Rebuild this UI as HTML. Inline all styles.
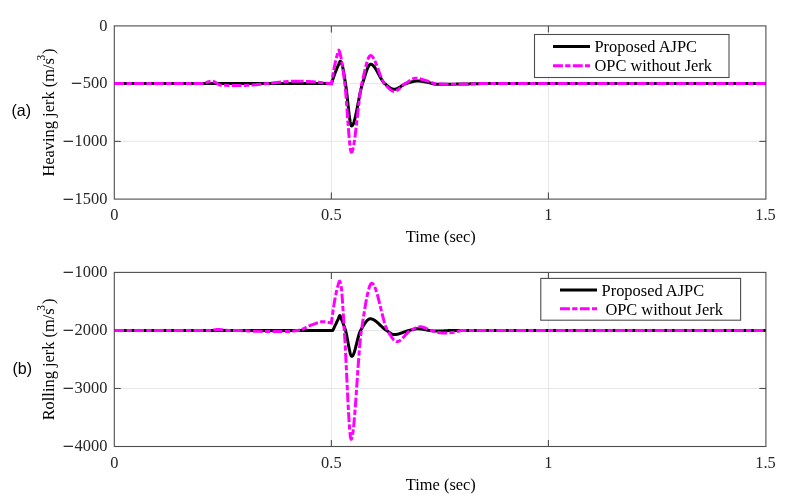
<!DOCTYPE html>
<html><head><meta charset="utf-8"><style>
html,body{margin:0;padding:0;background:#fff;}
body{width:789px;height:504px;overflow:hidden;}
svg{display:block;}
.tk{font-family:"Liberation Serif",serif;font-size:16.4px;fill:#262626;}
.m{font-family:"DejaVu Sans",sans-serif;font-size:15px;}
.lb{font-family:"Liberation Serif",serif;font-size:16.4px;fill:#000;}
.lg{font-family:"Liberation Serif",serif;font-size:16.4px;fill:#000;}
.sup{font-size:11.5px;}
.pn{font-family:"Liberation Sans",sans-serif;font-size:16px;fill:#000;}
</style></head><body>
<svg width="789" height="504" viewBox="0 0 789 504">
<rect width="789" height="504" fill="#fff"/>
<g stroke="#e6e6e6" stroke-width="1" fill="none">
<line x1="331.37" y1="25.9" x2="331.37" y2="199.1"/>
<line x1="548.43" y1="25.9" x2="548.43" y2="199.1"/>
<line x1="114.3" y1="83.63" x2="765.5" y2="83.63"/>
<line x1="114.3" y1="141.37" x2="765.5" y2="141.37"/>
</g>
<g stroke="#4d4d4d" stroke-width="1.1" fill="none">
<rect x="114.3" y="25.9" width="651.60" height="173.20"/>
<line x1="331.37" y1="199.1" x2="331.37" y2="192.6"/>
<line x1="331.37" y1="25.9" x2="331.37" y2="32.4"/>
<line x1="548.43" y1="199.1" x2="548.43" y2="192.6"/>
<line x1="548.43" y1="25.9" x2="548.43" y2="32.4"/>
<line x1="114.3" y1="83.63" x2="120.8" y2="83.63"/>
<line x1="765.9" y1="83.63" x2="759.4" y2="83.63"/>
<line x1="114.3" y1="141.37" x2="120.8" y2="141.37"/>
<line x1="765.9" y1="141.37" x2="759.4" y2="141.37"/>
</g>
<path d="M114.30,83.60 L331.50,83.60 L331.75,82.78 L332.00,81.98 L332.25,81.18 L332.50,80.40 L332.75,79.63 L333.00,78.87 L333.25,78.13 L333.50,77.39 L333.75,76.67 L334.00,75.95 L334.25,75.25 L334.50,74.55 L334.75,73.87 L335.00,73.20 L335.25,72.53 L335.50,71.88 L335.75,71.24 L336.00,70.60 L336.25,69.97 L336.50,69.36 L336.75,68.75 L337.00,68.15 L337.25,67.56 L337.50,66.97 L337.75,66.40 L338.00,65.83 L338.25,65.27 L338.50,64.72 L338.75,64.16 L339.00,63.53 L339.25,62.88 L339.50,62.27 L339.75,61.75 L340.00,61.38 L340.25,61.21 L340.50,61.27 L340.75,61.53 L341.00,61.96 L341.25,62.50 L341.50,63.14 L341.75,63.81 L342.00,64.50 L342.25,65.26 L342.50,66.18 L342.75,67.25 L343.00,68.44 L343.25,69.74 L343.50,71.13 L343.75,72.59 L344.00,74.12 L344.25,75.69 L344.50,77.28 L344.75,78.89 L345.00,80.49 L345.25,82.06 L345.50,83.60 L345.75,85.20 L346.00,86.96 L346.25,88.85 L346.50,90.87 L346.75,92.99 L347.00,95.19 L347.25,97.45 L347.50,99.75 L347.75,102.07 L348.00,104.39 L348.25,106.70 L348.50,108.96 L348.75,111.17 L349.00,113.30 L349.25,115.34 L349.50,117.25 L349.75,119.03 L350.00,120.65 L350.25,122.10 L350.50,123.34 L350.75,124.38 L351.00,125.17 L351.25,125.71 L351.50,125.98 L351.75,125.98 L352.00,125.87 L352.25,125.67 L352.50,125.38 L352.75,125.00 L353.00,124.54 L353.25,124.00 L353.50,123.39 L353.75,122.70 L354.00,121.95 L354.25,121.13 L354.50,120.25 L354.75,119.32 L355.00,118.34 L355.25,117.30 L355.50,116.23 L355.75,115.11 L356.00,113.95 L356.25,112.77 L356.50,111.55 L356.75,110.31 L357.00,109.05 L357.25,107.77 L357.50,106.47 L357.75,105.17 L358.00,103.86 L358.25,102.55 L358.50,101.24 L358.75,99.93 L359.00,98.63 L359.25,97.35 L359.50,96.09 L359.75,94.84 L360.00,93.62 L360.25,92.43 L360.50,91.27 L360.75,90.14 L361.00,89.06 L361.25,88.02 L361.50,87.02 L361.75,86.08 L362.00,85.19 L362.25,84.37 L362.50,83.60 L362.75,82.86 L363.00,82.10 L363.25,81.32 L363.50,80.53 L363.75,79.74 L364.00,78.93 L364.25,78.12 L364.50,77.31 L364.75,76.50 L365.00,75.69 L365.25,74.89 L365.50,74.10 L365.75,73.32 L366.00,72.56 L366.25,71.81 L366.50,71.08 L366.75,70.37 L367.00,69.69 L367.25,69.03 L367.50,68.40 L367.75,67.81 L368.00,67.25 L368.25,66.73 L368.50,66.25 L368.75,65.82 L369.00,65.43 L369.25,65.09 L369.50,64.80 L369.75,64.56 L370.00,64.38 L370.25,64.26 L370.50,64.21 L370.75,64.21 L371.00,64.24 L371.25,64.29 L371.50,64.38 L371.75,64.49 L372.00,64.63 L372.25,64.79 L372.50,64.97 L372.75,65.17 L373.00,65.40 L373.25,65.65 L373.50,65.91 L373.75,66.20 L374.00,66.50 L374.25,66.82 L374.50,67.15 L374.75,67.50 L375.00,67.86 L375.25,68.24 L375.50,68.63 L375.75,69.03 L376.00,69.44 L376.25,69.86 L376.50,70.29 L376.75,70.73 L377.00,71.17 L377.25,71.62 L377.50,72.08 L377.75,72.54 L378.00,73.00 L378.25,73.47 L378.50,73.94 L378.75,74.40 L379.00,74.87 L379.25,75.34 L379.50,75.81 L379.75,76.27 L380.00,76.73 L380.25,77.18 L380.50,77.63 L380.75,78.07 L381.00,78.51 L381.25,78.93 L381.50,79.35 L381.75,79.76 L382.00,80.16 L382.25,80.54 L382.50,80.92 L382.75,81.28 L383.00,81.62 L383.25,81.95 L383.50,82.26 L383.75,82.56 L384.00,82.84 L384.25,83.10 L384.50,83.34 L384.75,83.56 L385.00,83.76 L385.25,83.97 L385.50,84.18 L385.75,84.39 L386.00,84.60 L386.25,84.81 L386.50,85.03 L386.75,85.24 L387.00,85.45 L387.25,85.66 L387.50,85.86 L387.75,86.07 L388.00,86.27 L388.25,86.47 L388.50,86.67 L388.75,86.86 L389.00,87.05 L389.25,87.23 L389.50,87.41 L389.75,87.59 L390.00,87.75 L390.25,87.91 L390.50,88.07 L390.75,88.22 L391.00,88.36 L391.25,88.49 L391.50,88.61 L391.75,88.73 L392.00,88.83 L392.25,88.93 L392.50,89.01 L392.75,89.09 L393.00,89.15 L393.25,89.21 L393.50,89.25 L393.75,89.28 L394.00,89.30 L394.25,89.30 L394.50,89.29 L394.75,89.27 L395.00,89.24 L395.25,89.20 L395.50,89.15 L395.75,89.09 L396.00,89.01 L396.25,88.93 L396.50,88.85 L396.75,88.75 L397.00,88.65 L397.25,88.53 L397.50,88.42 L397.75,88.29 L398.00,88.16 L398.25,88.03 L398.50,87.89 L398.75,87.74 L399.00,87.59 L399.25,87.44 L399.50,87.29 L399.75,87.13 L400.00,86.97 L400.25,86.81 L400.50,86.64 L400.75,86.48 L401.00,86.31 L401.25,86.15 L401.50,85.98 L401.75,85.82 L402.00,85.66 L402.25,85.50 L402.50,85.34 L402.75,85.18 L403.00,85.03 L403.25,84.88 L403.50,84.74 L403.75,84.60 L404.00,84.46 L404.25,84.33 L404.50,84.20 L404.75,84.09 L405.00,83.97 L405.25,83.87 L405.50,83.77 L405.75,83.68 L406.00,83.60 L406.25,83.52 L406.50,83.44 L406.75,83.37 L407.00,83.29 L407.25,83.21 L407.50,83.13 L407.75,83.05 L408.00,82.97 L408.25,82.89 L408.50,82.81 L408.75,82.74 L409.00,82.66 L409.25,82.58 L409.50,82.50 L409.75,82.43 L410.00,82.35 L410.25,82.28 L410.50,82.20 L410.75,82.13 L411.00,82.06 L411.25,81.99 L411.50,81.92 L411.75,81.86 L412.00,81.79 L412.25,81.73 L412.50,81.67 L412.75,81.61 L413.00,81.55 L413.25,81.50 L413.50,81.45 L413.75,81.40 L414.00,81.35 L414.25,81.30 L414.50,81.26 L414.75,81.22 L415.00,81.18 L415.25,81.15 L415.50,81.12 L415.75,81.09 L416.00,81.07 L416.25,81.05 L416.50,81.03 L416.75,81.02 L417.00,81.01 L417.25,81.00 L417.50,81.00 L417.75,81.00 L418.00,81.01 L418.25,81.01 L418.50,81.02 L418.75,81.04 L419.00,81.05 L419.25,81.07 L419.50,81.09 L419.75,81.11 L420.00,81.13 L420.25,81.16 L420.50,81.19 L420.75,81.22 L421.00,81.25 L421.25,81.28 L421.50,81.32 L421.75,81.35 L422.00,81.39 L422.25,81.43 L422.50,81.47 L422.75,81.51 L423.00,81.55 L423.25,81.60 L423.50,81.64 L423.75,81.68 L424.00,81.73 L424.25,81.77 L424.50,81.82 L424.75,81.87 L425.00,81.91 L425.25,81.96 L425.50,82.01 L425.75,82.05 L426.00,82.10 L426.25,82.14 L426.50,82.19 L426.75,82.23 L427.00,82.28 L427.25,82.32 L427.50,82.37 L427.75,82.41 L428.00,82.45 L428.25,82.50 L428.50,82.55 L428.75,82.61 L429.00,82.67 L429.25,82.73 L429.50,82.79 L429.75,82.86 L430.00,82.93 L430.25,83.00 L430.50,83.07 L430.75,83.14 L431.00,83.21 L431.25,83.28 L431.50,83.35 L431.75,83.42 L432.00,83.49 L432.25,83.56 L432.50,83.63 L432.75,83.70 L433.00,83.76 L433.25,83.83 L433.50,83.89 L433.75,83.94 L434.00,84.00 L434.25,84.05 L434.50,84.10 L434.75,84.14 L435.00,84.18 L435.25,84.21 L435.50,84.24 L435.75,84.26 L436.00,84.28 L436.25,84.29 L436.50,84.30 L436.75,84.30 L437.00,84.30 L437.25,84.30 L437.50,84.30 L437.75,84.30 L438.00,84.30 L438.25,84.30 L438.50,84.30 L438.75,84.30 L439.00,84.30 L439.25,84.29 L439.50,84.29 L439.75,84.29 L440.00,84.29 L440.25,84.29 L440.50,84.29 L440.75,84.29 L441.00,84.28 L441.25,84.28 L441.50,84.28 L441.75,84.28 L442.00,84.28 L442.25,84.28 L442.50,84.27 L442.75,84.27 L443.00,84.27 L443.25,84.27 L443.50,84.27 L443.75,84.26 L444.00,84.26 L444.25,84.26 L444.50,84.26 L444.75,84.25 L445.00,84.25 L445.25,84.25 L445.50,84.25 L445.75,84.24 L446.00,84.24 L446.25,84.24 L446.50,84.24 L446.75,84.23 L447.00,84.23 L447.25,84.23 L447.50,84.23 L447.75,84.22 L448.00,84.22 L448.25,84.22 L448.50,84.22 L448.75,84.21 L449.00,84.21 L449.25,84.21 L449.50,84.21 L449.75,84.20 L450.00,84.20 L450.25,84.20 L450.50,84.19 L450.75,84.19 L451.00,84.19 L451.25,84.19 L451.50,84.18 L451.75,84.18 L452.00,84.18 L452.25,84.18 L452.50,84.17 L452.75,84.17 L453.00,84.17 L453.25,84.16 L453.50,84.16 L453.75,84.16 L454.00,84.15 L454.25,84.15 L454.50,84.15 L454.75,84.14 L455.00,84.14 L455.25,84.14 L455.50,84.13 L455.75,84.13 L456.00,84.13 L456.25,84.12 L456.50,84.12 L456.75,84.11 L457.00,84.11 L457.25,84.11 L457.50,84.10 L457.75,84.10 L458.00,84.10 L458.25,84.09 L458.50,84.09 L458.75,84.08 L459.00,84.08 L459.25,84.08 L459.50,84.07 L459.75,84.07 L460.00,84.06 L460.25,84.06 L460.50,84.05 L460.75,84.05 L461.00,84.05 L461.25,84.04 L461.50,84.04 L461.75,84.03 L462.00,84.03 L462.25,84.02 L462.50,84.02 L462.75,84.01 L463.00,84.01 L463.25,84.00 L463.50,84.00 L463.75,83.99 L464.00,83.99 L464.25,83.98 L464.50,83.98 L464.75,83.97 L465.00,83.97 L465.25,83.96 L465.50,83.96 L465.75,83.95 L466.00,83.95 L466.25,83.94 L466.50,83.94 L466.75,83.93 L467.00,83.93 L467.25,83.92 L467.50,83.92 L467.75,83.91 L468.00,83.91 L468.25,83.90 L468.50,83.89 L468.75,83.89 L469.00,83.88 L469.25,83.88 L469.50,83.87 L469.75,83.87 L470.00,83.86 L470.25,83.85 L470.50,83.85 L470.75,83.84 L471.00,83.84 L471.25,83.83 L471.50,83.82 L471.75,83.82 L472.00,83.81 L472.25,83.81 L472.50,83.80 L472.75,83.79 L473.00,83.79 L473.25,83.78 L473.50,83.78 L473.75,83.77 L474.00,83.76 L474.25,83.76 L474.50,83.75 L474.75,83.74 L475.00,83.74 L475.25,83.73 L475.50,83.72 L475.75,83.72 L476.00,83.71 L476.25,83.70 L476.50,83.70 L476.75,83.69 L477.00,83.68 L477.25,83.68 L477.50,83.67 L477.75,83.66 L478.00,83.66 L478.25,83.65 L478.50,83.64 L478.75,83.64 L479.00,83.63 L479.25,83.62 L479.50,83.61 L479.75,83.61 L480.00,83.60 L765.50,83.60" fill="none" stroke="#000" stroke-width="3" stroke-linejoin="round"/>
<path d="M114.30,83.60 L204.30,83.60 L204.55,83.44 L204.80,83.29 L205.05,83.15 L205.30,83.01 L205.55,82.88 L205.80,82.75 L206.05,82.63 L206.30,82.52 L206.55,82.41 L206.80,82.31 L207.05,82.21 L207.30,82.12 L207.56,82.04 L207.81,81.96 L208.06,81.88 L208.31,81.82 L208.56,81.75 L208.81,81.69 L209.06,81.64 L209.31,81.59 L209.56,81.54 L209.81,81.50 L210.06,81.46 L210.31,81.43 L210.56,81.40 L210.81,81.37 L211.06,81.35 L211.31,81.34 L211.56,81.32 L211.81,81.31 L212.06,81.30 L212.31,81.30 L212.56,81.30 L212.81,81.32 L213.06,81.35 L213.31,81.40 L213.56,81.46 L213.81,81.55 L214.07,81.64 L214.32,81.75 L214.57,81.87 L214.82,82.00 L215.07,82.13 L215.32,82.28 L215.57,82.43 L215.82,82.59 L216.07,82.75 L216.32,82.92 L216.57,83.09 L216.82,83.26 L217.07,83.43 L217.32,83.60 L217.57,83.77 L217.82,83.93 L218.07,84.09 L218.32,84.24 L218.57,84.38 L218.82,84.52 L219.07,84.65 L219.32,84.77 L219.57,84.87 L219.82,84.97 L220.07,85.05 L220.33,85.11 L220.58,85.16 L220.83,85.19 L221.08,85.20 L221.33,85.21 L221.58,85.22 L221.83,85.23 L222.08,85.24 L222.33,85.24 L222.58,85.25 L222.83,85.26 L223.08,85.27 L223.33,85.27 L223.58,85.28 L223.83,85.29 L224.08,85.30 L224.33,85.30 L224.58,85.31 L224.83,85.32 L225.08,85.32 L225.33,85.33 L225.58,85.34 L225.83,85.34 L226.08,85.35 L226.33,85.35 L226.59,85.36 L226.84,85.36 L227.09,85.37 L227.34,85.38 L227.59,85.38 L227.84,85.39 L228.09,85.39 L228.34,85.40 L228.59,85.40 L228.84,85.40 L229.09,85.41 L229.34,85.41 L229.59,85.42 L229.84,85.42 L230.09,85.43 L230.34,85.43 L230.59,85.43 L230.84,85.44 L231.09,85.44 L231.34,85.44 L231.59,85.45 L231.84,85.45 L232.09,85.45 L232.34,85.46 L232.59,85.46 L232.84,85.46 L233.10,85.47 L233.35,85.47 L233.60,85.47 L233.85,85.47 L234.10,85.47 L234.35,85.48 L234.60,85.48 L234.85,85.48 L235.10,85.48 L235.35,85.48 L235.60,85.49 L235.85,85.49 L236.10,85.49 L236.35,85.49 L236.60,85.49 L236.85,85.49 L237.10,85.49 L237.35,85.50 L237.60,85.50 L237.85,85.50 L238.10,85.50 L238.35,85.50 L238.60,85.50 L238.85,85.50 L239.10,85.50 L239.36,85.50 L239.61,85.50 L239.86,85.50 L240.11,85.50 L240.36,85.50 L240.61,85.50 L240.86,85.50 L241.11,85.50 L241.36,85.49 L241.61,85.49 L241.86,85.49 L242.11,85.48 L242.36,85.48 L242.61,85.47 L242.86,85.47 L243.11,85.46 L243.36,85.46 L243.61,85.45 L243.86,85.44 L244.11,85.44 L244.36,85.43 L244.61,85.42 L244.86,85.41 L245.11,85.40 L245.36,85.40 L245.61,85.39 L245.87,85.38 L246.12,85.36 L246.37,85.35 L246.62,85.34 L246.87,85.33 L247.12,85.32 L247.37,85.31 L247.62,85.29 L247.87,85.28 L248.12,85.27 L248.37,85.25 L248.62,85.24 L248.87,85.23 L249.12,85.21 L249.37,85.20 L249.62,85.18 L249.87,85.16 L250.12,85.15 L250.37,85.13 L250.62,85.12 L250.87,85.10 L251.12,85.08 L251.37,85.06 L251.62,85.05 L251.87,85.03 L252.13,85.01 L252.38,84.99 L252.63,84.97 L252.88,84.95 L253.13,84.93 L253.38,84.91 L253.63,84.89 L253.88,84.87 L254.13,84.85 L254.38,84.83 L254.63,84.81 L254.88,84.79 L255.13,84.77 L255.38,84.74 L255.63,84.72 L255.88,84.70 L256.13,84.68 L256.38,84.65 L256.63,84.63 L256.88,84.61 L257.13,84.58 L257.38,84.56 L257.63,84.54 L257.88,84.51 L258.13,84.49 L258.39,84.47 L258.64,84.44 L258.89,84.42 L259.14,84.39 L259.39,84.37 L259.64,84.34 L259.89,84.32 L260.14,84.29 L260.39,84.27 L260.64,84.24 L260.89,84.21 L261.14,84.19 L261.39,84.16 L261.64,84.14 L261.89,84.11 L262.14,84.08 L262.39,84.06 L262.64,84.03 L262.89,84.00 L263.14,83.98 L263.39,83.95 L263.64,83.92 L263.89,83.89 L264.14,83.87 L264.39,83.84 L264.64,83.81 L264.90,83.78 L265.15,83.76 L265.40,83.73 L265.65,83.70 L265.90,83.67 L266.15,83.65 L266.40,83.62 L266.65,83.59 L266.90,83.56 L267.15,83.53 L267.40,83.51 L267.65,83.48 L267.90,83.45 L268.15,83.42 L268.40,83.39 L268.65,83.37 L268.90,83.34 L269.15,83.31 L269.40,83.28 L269.65,83.25 L269.90,83.23 L270.15,83.20 L270.40,83.17 L270.65,83.14 L270.90,83.11 L271.16,83.09 L271.41,83.06 L271.66,83.03 L271.91,83.00 L272.16,82.98 L272.41,82.95 L272.66,82.92 L272.91,82.89 L273.16,82.87 L273.41,82.84 L273.66,82.81 L273.91,82.78 L274.16,82.76 L274.41,82.73 L274.66,82.70 L274.91,82.68 L275.16,82.65 L275.41,82.62 L275.66,82.60 L275.91,82.57 L276.16,82.54 L276.41,82.52 L276.66,82.49 L276.91,82.47 L277.16,82.44 L277.41,82.41 L277.67,82.39 L277.92,82.36 L278.17,82.34 L278.42,82.31 L278.67,82.29 L278.92,82.26 L279.17,82.24 L279.42,82.21 L279.67,82.19 L279.92,82.17 L280.17,82.14 L280.42,82.12 L280.67,82.10 L280.92,82.07 L281.17,82.05 L281.42,82.03 L281.67,82.00 L281.92,81.98 L282.17,81.96 L282.42,81.94 L282.67,81.92 L282.92,81.90 L283.17,81.87 L283.42,81.85 L283.67,81.83 L283.93,81.81 L284.18,81.79 L284.43,81.77 L284.68,81.75 L284.93,81.73 L285.18,81.71 L285.43,81.69 L285.68,81.68 L285.93,81.66 L286.18,81.64 L286.43,81.62 L286.68,81.61 L286.93,81.59 L287.18,81.57 L287.43,81.55 L287.68,81.54 L287.93,81.52 L288.18,81.51 L288.43,81.49 L288.68,81.48 L288.93,81.46 L289.18,81.45 L289.43,81.43 L289.68,81.42 L289.93,81.41 L290.19,81.40 L290.44,81.38 L290.69,81.37 L290.94,81.36 L291.19,81.35 L291.44,81.34 L291.69,81.33 L291.94,81.32 L292.19,81.31 L292.44,81.30 L292.69,81.29 L292.94,81.28 L293.19,81.27 L293.44,81.26 L293.69,81.26 L293.94,81.25 L294.19,81.24 L294.44,81.24 L294.69,81.23 L294.94,81.23 L295.19,81.22 L295.44,81.22 L295.69,81.21 L295.94,81.21 L296.19,81.21 L296.44,81.21 L296.70,81.20 L296.95,81.20 L297.20,81.20 L297.45,81.20 L297.70,81.20 L297.95,81.20 L298.20,81.20 L298.45,81.20 L298.70,81.20 L298.95,81.21 L299.20,81.21 L299.45,81.21 L299.70,81.21 L299.95,81.22 L300.20,81.22" fill="none" stroke="#f0f" stroke-width="3" stroke-dasharray="9.9 2.3 5.3 2.3"/>
<path d="M300.20,81.22 L300.45,81.22 L300.70,81.23 L300.95,81.23 L301.20,81.24 L301.45,81.24 L301.70,81.25 L301.95,81.25 L302.20,81.26 L302.45,81.27 L302.70,81.27 L302.96,81.28 L303.21,81.29 L303.46,81.29 L303.71,81.30 L303.96,81.31 L304.21,81.32 L304.46,81.33 L304.71,81.34 L304.96,81.35 L305.21,81.36 L305.46,81.37 L305.71,81.38 L305.96,81.39 L306.21,81.40 L306.46,81.41 L306.71,81.42 L306.96,81.44 L307.21,81.45 L307.46,81.46 L307.71,81.48 L307.96,81.49 L308.21,81.50 L308.46,81.52 L308.71,81.53 L308.96,81.54 L309.21,81.56 L309.47,81.57 L309.72,81.59 L309.97,81.61 L310.22,81.62 L310.47,81.64 L310.72,81.65 L310.97,81.67 L311.22,81.69 L311.47,81.70 L311.72,81.72 L311.97,81.74 L312.22,81.76 L312.47,81.78 L312.72,81.79 L312.97,81.81 L313.22,81.83 L313.47,81.85 L313.72,81.87 L313.97,81.89 L314.22,81.91 L314.47,81.93 L314.72,81.95 L314.97,81.97 L315.22,81.99 L315.47,82.01 L315.73,82.04 L315.98,82.06 L316.23,82.08 L316.48,82.10 L316.73,82.12 L316.98,82.15 L317.23,82.17 L317.48,82.19 L317.73,82.22 L317.98,82.24 L318.23,82.26 L318.48,82.29 L318.73,82.31 L318.98,82.34 L319.23,82.36 L319.48,82.39 L319.73,82.41 L319.98,82.44 L320.23,82.46 L320.48,82.49 L320.73,82.51 L320.98,82.54 L321.23,82.57 L321.48,82.59 L321.73,82.62 L321.99,82.65 L322.24,82.67 L322.49,82.70 L322.74,82.73 L322.99,82.76 L323.24,82.78 L323.49,82.81 L323.74,82.84 L323.99,82.87 L324.24,82.90 L324.49,82.93 L324.74,82.96 L324.99,82.98 L325.24,83.01 L325.49,83.04 L325.74,83.07 L325.99,83.10 L326.24,83.13 L326.49,83.16 L326.74,83.19 L326.99,83.22 L327.24,83.26 L327.49,83.29 L327.74,83.32 L327.99,83.35 L328.24,83.38 L328.50,83.41 L328.75,83.44 L329.00,83.47 L329.25,83.51 L329.50,83.54 L329.75,83.57 L330.00,83.60 L330.25,83.64 L330.50,83.67 L330.75,83.70 L331.00,83.73 L331.25,83.77 L331.50,83.80 L331.75,82.13 L332.00,80.50 L332.25,78.91 L332.50,77.36 L332.75,75.85 L333.00,74.38 L333.25,72.95 L333.50,71.55 L333.75,70.19 L334.00,68.86 L334.25,67.58 L334.50,66.33 L334.75,65.11 L335.00,63.93 L335.25,62.78 L335.50,61.67 L335.75,60.60 L336.00,59.55 L336.25,58.54 L336.50,57.56 L336.75,56.62 L337.00,55.71 L337.25,54.82 L337.50,53.89 L337.75,52.92 L338.00,52.00 L338.25,51.22 L338.50,50.67 L338.75,50.41 L339.00,50.52 L339.25,50.94 L339.50,51.62 L339.75,52.48 L340.00,53.44 L340.25,54.42 L340.50,55.39 L340.75,56.43 L341.00,57.58 L341.25,58.83 L341.50,60.17 L341.75,61.60 L342.00,63.12 L342.25,64.70 L342.50,66.36 L342.75,68.07 L343.00,69.84 L343.25,71.66 L343.50,73.52 L343.75,75.41 L344.00,77.34 L344.25,79.28 L344.50,81.24 L344.75,83.21 L345.00,85.27 L345.25,87.59 L345.50,90.16 L345.75,92.94 L346.00,95.91 L346.25,99.03 L346.50,102.29 L346.75,105.65 L347.00,109.09 L347.25,112.57 L347.50,116.07 L347.75,119.57 L348.00,123.03 L348.25,126.43 L348.50,129.73 L348.75,132.92 L349.00,135.96 L349.25,138.82 L349.50,141.49 L349.75,143.92 L350.00,146.09 L350.25,147.98 L350.50,149.56 L350.75,150.79 L351.00,151.65 L351.25,152.12 L351.50,152.19 L351.75,152.02 L352.00,151.68 L352.25,151.17 L352.50,150.50 L352.75,149.68 L353.00,148.71 L353.25,147.61 L353.50,146.38 L353.75,145.02 L354.00,143.55 L354.25,141.98 L354.50,140.31 L354.75,138.54 L355.00,136.70 L355.25,134.77 L355.50,132.78 L355.75,130.74 L356.00,128.63 L356.25,126.49 L356.50,124.31 L356.75,122.10 L357.00,119.87 L357.25,117.62 L357.50,115.37 L357.75,113.13 L358.00,110.89 L358.25,108.67 L358.50,106.48 L358.75,104.32 L359.00,102.20 L359.25,100.13 L359.50,98.11 L359.75,96.16 L360.00,94.29 L360.25,92.49 L360.50,90.78 L360.75,89.16 L361.00,87.65 L361.25,86.25 L361.50,84.97 L361.75,83.82 L362.00,82.75 L362.25,81.67 L362.50,80.58 L362.75,79.48 L363.00,78.37 L363.25,77.27 L363.50,76.16 L363.75,75.06 L364.00,73.96 L364.25,72.87 L364.50,71.79 L364.75,70.73 L365.00,69.68 L365.25,68.64 L365.50,67.63 L365.75,66.64 L366.00,65.67 L366.25,64.74 L366.50,63.83 L366.75,62.96 L367.00,62.12 L367.25,61.33 L367.50,60.57 L367.75,59.85 L368.00,59.19 L368.25,58.57 L368.50,58.00 L368.75,57.49 L369.00,57.03 L369.25,56.63 L369.50,56.29 L369.75,56.02 L370.00,55.81 L370.25,55.67 L370.50,55.61 L370.75,55.61 L371.00,55.66 L371.25,55.75 L371.50,55.88 L371.75,56.05 L372.00,56.25 L372.25,56.50 L372.50,56.78 L372.75,57.09 L373.00,57.44 L373.25,57.81 L373.50,58.22 L373.75,58.65 L374.00,59.11 L374.25,59.59 L374.50,60.10 L374.75,60.63 L375.00,61.18 L375.25,61.75 L375.50,62.34 L375.75,62.95 L376.00,63.57 L376.25,64.20 L376.50,64.85 L376.75,65.51 L377.00,66.18 L377.25,66.85 L377.50,67.53 L377.75,68.22 L378.00,68.91 L378.25,69.61 L378.50,70.30 L378.75,71.00 L379.00,71.69 L379.25,72.38 L379.50,73.06 L379.75,73.74 L380.00,74.41 L380.25,75.07 L380.50,75.73 L380.75,76.37 L381.00,76.99 L381.25,77.61 L381.50,78.20 L381.75,78.78 L382.00,79.34 L382.25,79.88 L382.50,80.40 L382.75,80.90 L383.00,81.37 L383.25,81.81 L383.50,82.23 L383.75,82.62 L384.00,82.98 L384.25,83.31 L384.50,83.60 L384.75,83.88 L385.00,84.16 L385.25,84.44 L385.50,84.72 L385.75,85.00 L386.00,85.29 L386.25,85.57 L386.50,85.85 L386.75,86.12 L387.00,86.40 L387.25,86.67 L387.50,86.94 L387.75,87.21 L388.00,87.47 L388.25,87.73 L388.50,87.98 L388.75,88.23 L389.00,88.47 L389.25,88.70 L389.50,88.93 L389.75,89.15 L390.00,89.36 L390.25,89.57 L390.50,89.76 L390.75,89.95 L391.00,90.12 L391.25,90.29 L391.50,90.44 L391.75,90.59 L392.00,90.72 L392.25,90.84 L392.50,90.95 L392.75,91.04 L393.00,91.12 L393.25,91.19 L393.50,91.24 L393.75,91.27 L394.00,91.29 L394.25,91.30 L394.50,91.29 L394.75,91.26 L395.00,91.22 L395.25,91.16 L395.50,91.09 L395.75,91.00 L396.00,90.90 L396.25,90.79 L396.50,90.67 L396.75,90.54 L397.00,90.39 L397.25,90.24 L397.50,90.07 L397.75,89.90 L398.00,89.72 L398.25,89.53 L398.50,89.33 L398.75,89.13 L399.00,88.92 L399.25,88.71 L399.50,88.49 L399.75,88.27 L400.00,88.05 L400.25,87.82 L400.50,87.59 L400.75,87.36 L401.00,87.13 L401.25,86.90 L401.50,86.66 L401.75,86.43 L402.00,86.20 L402.25,85.98 L402.50,85.75 L402.75,85.53 L403.00,85.31 L403.25,85.10 L403.50,84.89 L403.75,84.69 L404.00,84.49 L404.25,84.30 L404.50,84.12 L404.75,83.95 L405.00,83.78 L405.25,83.63 L405.50,83.48 L405.75,83.33 L406.00,83.17 L406.25,83.01 L406.50,82.84 L406.75,82.68 L407.00,82.51 L407.25,82.34 L407.50,82.16 L407.75,81.99 L408.00,81.82 L408.25,81.64 L408.50,81.47 L408.75,81.30 L409.00,81.12 L409.25,80.95 L409.50,80.78 L409.75,80.62 L410.00,80.45 L410.25,80.29 L410.50,80.13 L410.75,79.98 L411.00,79.83 L411.25,79.68 L411.50,79.54 L411.75,79.41 L412.00,79.28 L412.25,79.15 L412.50,79.04 L412.75,78.93 L413.00,78.82 L413.25,78.73 L413.50,78.64 L413.75,78.57 L414.00,78.50 L414.25,78.44 L414.50,78.39 L414.75,78.35 L415.00,78.32 L415.25,78.31 L415.50,78.30 L415.75,78.30 L416.00,78.31 L416.25,78.32 L416.50,78.33 L416.75,78.35 L417.00,78.37 L417.25,78.40 L417.50,78.43 L417.75,78.46 L418.00,78.50 L418.25,78.53 L418.50,78.58 L418.75,78.62 L419.00,78.67 L419.25,78.72 L419.50,78.77 L419.75,78.82 L420.00,78.88 L420.25,78.94 L420.50,79.00 L420.75,79.06 L421.00,79.13 L421.25,79.20 L421.50,79.26 L421.75,79.33 L422.00,79.40 L422.25,79.48 L422.50,79.55 L422.75,79.62 L423.00,79.70 L423.25,79.77 L423.50,79.85 L423.75,79.93 L424.00,80.00 L424.25,80.08 L424.50,80.16 L424.75,80.23 L425.00,80.31 L425.25,80.39 L425.50,80.46 L425.75,80.54 L426.00,80.62 L426.25,80.69 L426.50,80.76 L426.75,80.84 L427.00,80.91 L427.25,80.98 L427.50,81.05 L427.75,81.11 L428.00,81.18 L428.25,81.26 L428.50,81.34 L428.75,81.42 L429.00,81.51 L429.25,81.60 L429.50,81.69 L429.75,81.79 L430.00,81.88 L430.25,81.98 L430.50,82.08 L430.75,82.18 L431.00,82.28 L431.25,82.39 L431.50,82.49 L431.75,82.59 L432.00,82.69 L432.25,82.79 L432.50,82.88 L432.75,82.98 L433.00,83.07 L433.25,83.16 L433.50,83.25 L433.75,83.33 L434.00,83.41 L434.25,83.48 L434.50,83.55 L434.75,83.62 L435.00,83.68 L435.25,83.73 L435.50,83.78 L435.75,83.82 L436.00,83.85 L436.25,83.88 L436.50,83.89 L436.75,83.91 L437.00,83.92 L437.25,83.93 L437.50,83.94 L437.75,83.95 L438.00,83.96 L438.25,83.97 L438.50,83.98 L438.75,83.99 L439.00,84.00 L439.25,84.01 L439.50,84.02 L439.75,84.02 L440.00,84.03 L440.25,84.04 L440.50,84.05 L440.75,84.06 L441.00,84.06 L441.25,84.07 L441.50,84.08 L441.75,84.09 L442.00,84.09 L442.25,84.10 L442.50,84.11 L442.75,84.11 L443.00,84.12 L443.25,84.12 L443.50,84.13 L443.75,84.13 L444.00,84.14 L444.25,84.14 L444.50,84.15 L444.75,84.15 L445.00,84.16 L445.25,84.16 L445.50,84.17 L445.75,84.17 L446.00,84.17 L446.25,84.18 L446.50,84.18 L446.75,84.18 L447.00,84.18 L447.25,84.19 L447.50,84.19 L447.75,84.19 L448.00,84.19 L448.25,84.19 L448.50,84.20 L448.75,84.20 L449.00,84.20 L449.25,84.20 L449.50,84.20 L449.75,84.20 L450.00,84.20 L450.25,84.20 L450.50,84.20 L450.75,84.20 L451.00,84.20 L451.25,84.20 L451.50,84.20 L451.75,84.20 L452.00,84.20 L452.25,84.20 L452.50,84.20 L452.75,84.20 L453.00,84.20 L453.25,84.20 L453.50,84.20 L453.75,84.19 L454.00,84.19 L454.25,84.19 L454.50,84.19 L454.75,84.19 L455.00,84.19 L455.25,84.19 L455.50,84.19 L455.75,84.19 L456.00,84.18 L456.25,84.18 L456.50,84.18 L456.75,84.18 L457.00,84.18 L457.25,84.18 L457.50,84.18 L457.75,84.17 L458.00,84.17 L458.25,84.17 L458.50,84.17 L458.75,84.17 L459.00,84.16 L459.25,84.16 L459.50,84.16 L459.75,84.16 L460.00,84.15 L460.25,84.15 L460.50,84.15 L460.75,84.15 L461.00,84.14 L461.25,84.14 L461.50,84.14 L461.75,84.13 L462.00,84.13 L462.25,84.13 L462.50,84.12 L462.75,84.12 L463.00,84.12 L463.25,84.11 L463.50,84.11 L463.75,84.11 L464.00,84.10 L464.25,84.10 L464.50,84.09 L464.75,84.09 L465.00,84.08 L465.25,84.08 L465.50,84.08 L465.75,84.07 L466.00,84.07 L466.25,84.06 L466.50,84.06 L466.75,84.05 L467.00,84.05 L467.25,84.04 L467.50,84.04 L467.75,84.03 L468.00,84.02 L468.25,84.02 L468.50,84.01 L468.75,84.01 L469.00,84.00 L469.25,83.99 L469.50,83.99 L469.75,83.98 L470.00,83.97 L470.25,83.97 L470.50,83.96 L470.75,83.95 L471.00,83.95 L471.25,83.94 L471.50,83.93 L471.75,83.92 L472.00,83.92 L472.25,83.91 L472.50,83.90 L472.75,83.89 L473.00,83.89 L473.25,83.88 L473.50,83.87 L473.75,83.86 L474.00,83.85 L474.25,83.84 L474.50,83.83 L474.75,83.82 L475.00,83.82 L475.25,83.81 L475.50,83.80 L475.75,83.79 L476.00,83.78 L476.25,83.77 L476.50,83.76 L476.75,83.75 L477.00,83.74 L477.25,83.73 L477.50,83.72 L477.75,83.70 L478.00,83.69 L478.25,83.68 L478.50,83.67 L478.75,83.66 L479.00,83.65 L479.25,83.64 L479.50,83.62 L479.75,83.61 L480.00,83.60 L765.50,83.60" fill="none" stroke="#f0f" stroke-width="3" stroke-dasharray="9.9 2.3 5.3 2.3" stroke-dashoffset="14.09"/>
<rect x="534.5" y="34.5" width="194.50" height="43.00" fill="#fff" stroke="#4d4d4d" stroke-width="1.1"/>
<line x1="553" y1="46.4" x2="590" y2="46.4" stroke="#000" stroke-width="3"/>
<line x1="553" y1="65.8" x2="590" y2="65.8" stroke="#f0f" stroke-width="3" stroke-dasharray="9.9 2.3 5.3 2.3"/>
<text class="lg" x="594.5" y="51.6">Proposed AJPC</text>
<text class="lg" x="594.5" y="71.0">OPC without Jerk</text>
<text class="tk" x="107.4" y="30.50" text-anchor="end">0</text>
<text class="tk" x="107.4" y="88.23" text-anchor="end"><tspan class="m">−</tspan>500</text>
<text class="tk" x="107.4" y="145.97" text-anchor="end"><tspan class="m">−</tspan>1000</text>
<text class="tk" x="107.4" y="203.70" text-anchor="end"><tspan class="m">−</tspan>1500</text>
<text class="tk" x="114.30" y="220" text-anchor="middle">0</text>
<text class="tk" x="331.37" y="220" text-anchor="middle">0.5</text>
<text class="tk" x="548.43" y="220" text-anchor="middle">1</text>
<text class="tk" x="765.50" y="220" text-anchor="middle">1.5</text>
<text class="lb" x="440.8" y="241.8" text-anchor="middle">Time (sec)</text>
<text class="lb" transform="translate(54,112.50) rotate(-90)" text-anchor="middle">Heaving jerk (m/s<tspan class="sup" dx="-2.4" dy="-9.5">3</tspan><tspan dx="0.9" dy="9.5">)</tspan></text>
<text class="pn" transform="translate(11.5,115.8) scale(1,1.07)">(a)</text>
<g stroke="#e6e6e6" stroke-width="1" fill="none">
<line x1="331.37" y1="272.4" x2="331.37" y2="446.5"/>
<line x1="548.43" y1="272.4" x2="548.43" y2="446.5"/>
<line x1="114.3" y1="330.43" x2="765.5" y2="330.43"/>
<line x1="114.3" y1="388.47" x2="765.5" y2="388.47"/>
</g>
<g stroke="#4d4d4d" stroke-width="1.1" fill="none">
<rect x="114.3" y="272.4" width="651.60" height="174.10"/>
<line x1="331.37" y1="446.5" x2="331.37" y2="440.0"/>
<line x1="331.37" y1="272.4" x2="331.37" y2="278.9"/>
<line x1="548.43" y1="446.5" x2="548.43" y2="440.0"/>
<line x1="548.43" y1="272.4" x2="548.43" y2="278.9"/>
<line x1="114.3" y1="330.43" x2="120.8" y2="330.43"/>
<line x1="765.9" y1="330.43" x2="759.4" y2="330.43"/>
<line x1="114.3" y1="388.47" x2="120.8" y2="388.47"/>
<line x1="765.9" y1="388.47" x2="759.4" y2="388.47"/>
</g>
<path d="M114.30,330.40 L332.50,330.40 L332.80,330.40 L333.05,329.88 L333.30,329.35 L333.55,328.83 L333.80,328.30 L334.05,327.78 L334.30,327.25 L334.55,326.72 L334.80,326.20 L335.05,325.67 L335.30,325.14 L335.55,324.61 L335.81,324.08 L336.06,323.56 L336.31,323.03 L336.56,322.50 L336.81,321.97 L337.06,321.44 L337.31,320.91 L337.56,320.37 L337.81,319.84 L338.06,319.31 L338.31,318.78 L338.56,318.17 L338.81,317.47 L339.06,316.77 L339.31,316.17 L339.56,315.75 L339.81,315.60 L340.06,315.77 L340.31,316.19 L340.56,316.79 L340.81,317.48 L341.06,318.19 L341.31,318.83 L341.56,319.43 L341.82,320.04 L342.07,320.65 L342.32,321.28 L342.57,321.92 L342.82,322.57 L343.07,323.23 L343.32,323.90 L343.57,324.59 L343.82,325.29 L344.07,326.01 L344.32,326.74 L344.57,327.49 L344.82,328.25 L345.07,329.03 L345.32,329.82 L345.57,330.64 L345.82,331.54 L346.07,332.55 L346.32,333.64 L346.57,334.81 L346.82,336.04 L347.07,337.33 L347.32,338.66 L347.58,340.02 L347.83,341.40 L348.08,342.79 L348.33,344.16 L348.58,345.53 L348.83,346.86 L349.08,348.15 L349.33,349.39 L349.58,350.56 L349.83,351.66 L350.08,352.67 L350.33,353.59 L350.58,354.38 L350.83,355.06 L351.08,355.60 L351.33,356.00 L351.58,356.23 L351.83,356.30 L352.08,356.24 L352.33,356.08 L352.58,355.83 L352.83,355.49 L353.08,355.08 L353.34,354.59 L353.59,354.03 L353.84,353.40 L354.09,352.72 L354.34,351.98 L354.59,351.18 L354.84,350.35 L355.09,349.47 L355.34,348.56 L355.59,347.62 L355.84,346.66 L356.09,345.67 L356.34,344.67 L356.59,343.66 L356.84,342.65 L357.09,341.64 L357.34,340.63 L357.59,339.64 L357.84,338.66 L358.09,337.70 L358.34,336.77 L358.59,335.87 L358.84,335.01 L359.09,334.18 L359.35,333.41 L359.60,332.68 L359.85,332.02 L360.10,331.41 L360.35,330.87 L360.60,330.40 L360.85,329.97 L361.10,329.54 L361.35,329.11 L361.60,328.68 L361.85,328.25 L362.10,327.82 L362.35,327.39 L362.60,326.96 L362.85,326.54 L363.10,326.12 L363.35,325.71 L363.60,325.30 L363.85,324.90 L364.10,324.51 L364.35,324.12 L364.60,323.74 L364.85,323.37 L365.11,323.00 L365.36,322.65 L365.61,322.31 L365.86,321.98 L366.11,321.67 L366.36,321.36 L366.61,321.07 L366.86,320.80 L367.11,320.53 L367.36,320.29 L367.61,320.06 L367.86,319.85 L368.11,319.65 L368.36,319.47 L368.61,319.32 L368.86,319.18 L369.11,319.06 L369.36,318.96 L369.61,318.89 L369.86,318.84 L370.11,318.81 L370.36,318.80 L370.61,318.81 L370.86,318.83 L371.12,318.86 L371.37,318.91 L371.62,318.96 L371.87,319.02 L372.12,319.10 L372.37,319.18 L372.62,319.28 L372.87,319.38 L373.12,319.50 L373.37,319.62 L373.62,319.75 L373.87,319.88 L374.12,320.03 L374.37,320.18 L374.62,320.34 L374.87,320.51 L375.12,320.69 L375.37,320.87 L375.62,321.05 L375.87,321.24 L376.12,321.44 L376.37,321.64 L376.62,321.85 L376.88,322.06 L377.13,322.28 L377.38,322.50 L377.63,322.72 L377.88,322.95 L378.13,323.17 L378.38,323.41 L378.63,323.64 L378.88,323.88 L379.13,324.11 L379.38,324.35 L379.63,324.59 L379.88,324.83 L380.13,325.08 L380.38,325.32 L380.63,325.56 L380.88,325.80 L381.13,326.04 L381.38,326.28 L381.63,326.52 L381.88,326.76 L382.13,326.99 L382.38,327.22 L382.64,327.45 L382.89,327.68 L383.14,327.91 L383.39,328.13 L383.64,328.34 L383.89,328.56 L384.14,328.76 L384.39,328.97 L384.64,329.17 L384.89,329.36 L385.14,329.55 L385.39,329.73 L385.64,329.91 L385.89,330.08 L386.14,330.24 L386.39,330.39 L386.64,330.55 L386.89,330.71 L387.14,330.88 L387.39,331.05 L387.64,331.22 L387.89,331.40 L388.14,331.57 L388.39,331.75 L388.65,331.93 L388.90,332.11 L389.15,332.29 L389.40,332.47 L389.65,332.65 L389.90,332.82 L390.15,332.99 L390.40,333.16 L390.65,333.31 L390.90,333.47 L391.15,333.62 L391.40,333.76 L391.65,333.89 L391.90,334.01 L392.15,334.12 L392.40,334.23 L392.65,334.32 L392.90,334.40 L393.15,334.47 L393.40,334.52 L393.65,334.56 L393.90,334.59 L394.15,334.60 L394.41,334.60 L394.66,334.59 L394.91,334.58 L395.16,334.56 L395.41,334.54 L395.66,334.52 L395.91,334.49 L396.16,334.45 L396.41,334.42 L396.66,334.37 L396.91,334.33 L397.16,334.28 L397.41,334.23 L397.66,334.17 L397.91,334.11 L398.16,334.05 L398.41,333.98 L398.66,333.91 L398.91,333.84 L399.16,333.77 L399.41,333.69 L399.66,333.62 L399.91,333.54 L400.16,333.45 L400.42,333.37 L400.67,333.28 L400.92,333.20 L401.17,333.11 L401.42,333.02 L401.67,332.93 L401.92,332.84 L402.17,332.75 L402.42,332.65 L402.67,332.56 L402.92,332.46 L403.17,332.37 L403.42,332.28 L403.67,332.18 L403.92,332.09 L404.17,331.99 L404.42,331.90 L404.67,331.81 L404.92,331.72 L405.17,331.63 L405.42,331.54 L405.67,331.45 L405.92,331.36 L406.18,331.27 L406.43,331.19 L406.68,331.11 L406.93,331.02 L407.18,330.95 L407.43,330.87 L407.68,330.79 L407.93,330.72 L408.18,330.65 L408.43,330.59 L408.68,330.52 L408.93,330.46 L409.18,330.40 L409.43,330.35 L409.68,330.29 L409.93,330.23 L410.18,330.17 L410.43,330.11 L410.68,330.04 L410.93,329.98 L411.18,329.92 L411.43,329.85 L411.68,329.79 L411.94,329.72 L412.19,329.66 L412.44,329.60 L412.69,329.54 L412.94,329.48 L413.19,329.42 L413.44,329.36 L413.69,329.30 L413.94,329.25 L414.19,329.19 L414.44,329.14 L414.69,329.10 L414.94,329.05 L415.19,329.01 L415.44,328.97 L415.69,328.94 L415.94,328.90 L416.19,328.88 L416.44,328.85 L416.69,328.83 L416.94,328.82 L417.19,328.81 L417.44,328.80 L417.69,328.80 L417.95,328.80 L418.20,328.81 L418.45,328.82 L418.70,328.83 L418.95,328.84 L419.20,328.85 L419.45,328.87 L419.70,328.89 L419.95,328.91 L420.20,328.93 L420.45,328.96 L420.70,328.98 L420.95,329.01 L421.20,329.04 L421.45,329.08 L421.70,329.11 L421.95,329.14 L422.20,329.18 L422.45,329.22 L422.70,329.26 L422.95,329.30 L423.20,329.34 L423.45,329.38 L423.71,329.42 L423.96,329.47 L424.21,329.51 L424.46,329.56 L424.71,329.60 L424.96,329.65 L425.21,329.69 L425.46,329.74 L425.71,329.79 L425.96,329.84 L426.21,329.88 L426.46,329.93 L426.71,329.98 L426.96,330.03 L427.21,330.07 L427.46,330.12 L427.71,330.17 L427.96,330.21 L428.21,330.26 L428.46,330.30 L428.71,330.35 L428.96,330.39 L429.21,330.43 L429.46,330.47 L429.72,330.51 L429.97,330.55 L430.22,330.59 L430.47,330.63 L430.72,330.67 L430.97,330.70 L431.22,330.73 L431.47,330.76 L431.72,330.79 L431.97,330.82 L432.22,330.85 L432.47,330.87 L432.72,330.90 L432.97,330.92 L433.22,330.94 L433.47,330.95 L433.72,330.97 L433.97,330.98 L434.22,330.99 L434.47,330.99 L434.72,331.00 L434.97,331.00 L435.22,331.00 L435.48,331.00 L435.73,331.00 L435.98,331.00 L436.23,331.00 L436.48,331.00 L436.73,331.00 L436.98,331.00 L437.23,331.00 L437.48,331.00 L437.73,331.00 L437.98,330.99 L438.23,330.99 L438.48,330.99 L438.73,330.99 L438.98,330.99 L439.23,330.98 L439.48,330.98 L439.73,330.98 L439.98,330.97 L440.23,330.97 L440.48,330.97 L440.73,330.96 L440.98,330.96 L441.24,330.95 L441.49,330.95 L441.74,330.94 L441.99,330.93 L442.24,330.93 L442.49,330.92 L442.74,330.91 L442.99,330.90 L443.24,330.89 L443.49,330.89 L443.74,330.88 L443.99,330.86 L444.24,330.85 L444.49,330.84 L444.74,330.83 L444.99,330.82 L445.24,330.80 L445.49,330.79 L445.74,330.77 L445.99,330.76 L446.24,330.74 L446.49,330.72 L446.74,330.71 L446.99,330.69 L447.25,330.67 L447.50,330.65 L447.75,330.63 L448.00,330.61 L448.25,330.58 L448.50,330.56 L448.75,330.53 L449.00,330.51 L449.25,330.48 L449.50,330.46 L449.75,330.43 L450.00,330.40 L765.50,330.40" fill="none" stroke="#000" stroke-width="3" stroke-linejoin="round"/>
<path d="M114.30,330.40 L212.00,330.40 L212.25,330.34 L212.50,330.28 L212.75,330.22 L213.00,330.17 L213.25,330.11 L213.50,330.06 L213.75,330.00 L214.00,329.95 L214.25,329.90 L214.50,329.86 L214.75,329.81 L215.00,329.77 L215.25,329.73 L215.50,329.69 L215.75,329.66 L216.01,329.63 L216.26,329.60 L216.51,329.57 L216.76,329.55 L217.01,329.53 L217.26,329.52 L217.51,329.51 L217.76,329.50 L218.01,329.50 L218.26,329.50 L218.51,329.51 L218.76,329.51 L219.01,329.52 L219.26,329.54 L219.51,329.55 L219.76,329.57 L220.01,329.59 L220.26,329.61 L220.51,329.63 L220.76,329.65 L221.01,329.68 L221.26,329.70 L221.51,329.73 L221.76,329.76 L222.01,329.79 L222.26,329.82 L222.51,329.85 L222.76,329.88 L223.01,329.92 L223.26,329.95 L223.51,329.98 L223.76,330.01 L224.02,330.04 L224.27,330.08 L224.52,330.11 L224.77,330.14 L225.02,330.17 L225.27,330.19 L225.52,330.22 L225.77,330.25 L226.02,330.27 L226.27,330.29 L226.52,330.32 L226.77,330.34 L227.02,330.35 L227.27,330.37 L227.52,330.38 L227.77,330.39 L228.02,330.40 L228.27,330.41 L228.52,330.41 L228.77,330.42 L229.02,330.43 L229.27,330.43 L229.52,330.44 L229.77,330.44 L230.02,330.45 L230.27,330.45 L230.52,330.46 L230.77,330.46 L231.02,330.47 L231.27,330.47 L231.52,330.48 L231.77,330.48 L232.03,330.48 L232.28,330.49 L232.53,330.49 L232.78,330.49 L233.03,330.50 L233.28,330.50 L233.53,330.50 L233.78,330.51 L234.03,330.51 L234.28,330.51 L234.53,330.52 L234.78,330.52 L235.03,330.52 L235.28,330.52 L235.53,330.53 L235.78,330.53 L236.03,330.53 L236.28,330.54 L236.53,330.54 L236.78,330.54 L237.03,330.55 L237.28,330.55 L237.53,330.55 L237.78,330.56 L238.03,330.56 L238.28,330.57 L238.53,330.57 L238.78,330.58 L239.03,330.58 L239.28,330.58 L239.53,330.59 L239.78,330.60 L240.04,330.60 L240.29,330.61 L240.54,330.61 L240.79,330.62 L241.04,330.63 L241.29,330.63 L241.54,330.64 L241.79,330.65 L242.04,330.66 L242.29,330.66 L242.54,330.67 L242.79,330.68 L243.04,330.69 L243.29,330.70 L243.54,330.71 L243.79,330.72 L244.04,330.73 L244.29,330.74 L244.54,330.75 L244.79,330.76 L245.04,330.77 L245.29,330.78 L245.54,330.79 L245.79,330.80 L246.04,330.81 L246.29,330.82 L246.54,330.83 L246.79,330.85 L247.04,330.86 L247.29,330.87 L247.54,330.88 L247.79,330.89 L248.05,330.90 L248.30,330.91 L248.55,330.93 L248.80,330.94 L249.05,330.95 L249.30,330.96 L249.55,330.97 L249.80,330.98 L250.05,331.00 L250.30,331.01 L250.55,331.02 L250.80,331.03 L251.05,331.04 L251.30,331.05 L251.55,331.06 L251.80,331.08 L252.05,331.09 L252.30,331.10 L252.55,331.11 L252.80,331.12 L253.05,331.13 L253.30,331.14 L253.55,331.15 L253.80,331.16 L254.05,331.17 L254.30,331.18 L254.55,331.19 L254.80,331.20 L255.05,331.21 L255.30,331.22 L255.55,331.23 L255.81,331.24 L256.06,331.24 L256.31,331.25 L256.56,331.26 L256.81,331.27 L257.06,331.28 L257.31,331.28 L257.56,331.29 L257.81,331.30 L258.06,331.30 L258.31,331.31 L258.56,331.31 L258.81,331.32 L259.06,331.33 L259.31,331.33 L259.56,331.34 L259.81,331.34 L260.06,331.35 L260.31,331.36 L260.56,331.36 L260.81,331.37 L261.06,331.38 L261.31,331.38 L261.56,331.39 L261.81,331.39 L262.06,331.40 L262.31,331.41 L262.56,331.41 L262.81,331.42 L263.06,331.42 L263.31,331.43 L263.56,331.44 L263.82,331.44 L264.07,331.45 L264.32,331.45 L264.57,331.46 L264.82,331.47 L265.07,331.47 L265.32,331.48 L265.57,331.48 L265.82,331.49 L266.07,331.49 L266.32,331.50 L266.57,331.50 L266.82,331.51 L267.07,331.51 L267.32,331.52 L267.57,331.52 L267.82,331.53 L268.07,331.53 L268.32,331.54 L268.57,331.54 L268.82,331.54 L269.07,331.55 L269.32,331.55 L269.57,331.56 L269.82,331.56 L270.07,331.56 L270.32,331.57 L270.57,331.57 L270.82,331.57 L271.07,331.58 L271.32,331.58 L271.57,331.58 L271.83,331.58 L272.08,331.59 L272.33,331.59 L272.58,331.59 L272.83,331.59 L273.08,331.59 L273.33,331.60 L273.58,331.60 L273.83,331.60 L274.08,331.60 L274.33,331.60 L274.58,331.60 L274.83,331.60 L275.08,331.60 L275.33,331.60 L275.58,331.60 L275.83,331.60 L276.08,331.60 L276.33,331.60 L276.58,331.60 L276.83,331.60 L277.08,331.60 L277.33,331.59 L277.58,331.59 L277.83,331.59 L278.08,331.59 L278.33,331.59 L278.58,331.59 L278.83,331.58 L279.08,331.58 L279.33,331.58 L279.58,331.58 L279.84,331.57 L280.09,331.57 L280.34,331.57 L280.59,331.57 L280.84,331.56 L281.09,331.56 L281.34,331.56 L281.59,331.55 L281.84,331.55 L282.09,331.55 L282.34,331.54 L282.59,331.54 L282.84,331.53 L283.09,331.53 L283.34,331.53 L283.59,331.52 L283.84,331.52 L284.09,331.51 L284.34,331.51 L284.59,331.50 L284.84,331.50 L285.09,331.49 L285.34,331.49 L285.59,331.48 L285.84,331.48 L286.09,331.47 L286.34,331.47 L286.59,331.46 L286.84,331.45 L287.09,331.45 L287.34,331.44 L287.59,331.44 L287.85,331.43 L288.10,331.42 L288.35,331.42 L288.60,331.41 L288.85,331.40 L289.10,331.40 L289.35,331.39 L289.60,331.38 L289.85,331.37 L290.10,331.36 L290.35,331.34 L290.60,331.33 L290.85,331.31 L291.10,331.29 L291.35,331.27 L291.60,331.25 L291.85,331.23 L292.10,331.21 L292.35,331.18 L292.60,331.16 L292.85,331.13 L293.10,331.10 L293.35,331.07 L293.60,331.04 L293.85,331.01 L294.10,330.98 L294.35,330.95 L294.60,330.91 L294.85,330.88 L295.10,330.84 L295.35,330.81 L295.61,330.77 L295.86,330.73 L296.11,330.69 L296.36,330.65 L296.61,330.61 L296.86,330.57 L297.11,330.53 L297.36,330.49 L297.61,330.45 L297.86,330.40 L298.11,330.36 L298.36,330.32 L298.61,330.27 L298.86,330.23 L299.11,330.18 L299.36,330.13 L299.61,330.07 L299.86,330.01 L300.11,329.95" fill="none" stroke="#f0f" stroke-width="3" stroke-dasharray="9.9 2.3 5.3 2.3"/>
<path d="M300.11,329.95 L300.36,329.88 L300.61,329.81 L300.86,329.73 L301.11,329.65 L301.36,329.56 L301.61,329.47 L301.86,329.38 L302.11,329.28 L302.36,329.18 L302.61,329.08 L302.86,328.97 L303.11,328.87 L303.36,328.76 L303.62,328.65 L303.87,328.53 L304.12,328.42 L304.37,328.30 L304.62,328.18 L304.87,328.06 L305.12,327.94 L305.37,327.81 L305.62,327.69 L305.87,327.56 L306.12,327.44 L306.37,327.31 L306.62,327.19 L306.87,327.06 L307.12,326.94 L307.37,326.82 L307.62,326.69 L307.87,326.57 L308.12,326.45 L308.37,326.32 L308.62,326.20 L308.87,326.09 L309.12,325.97 L309.37,325.85 L309.62,325.74 L309.87,325.63 L310.12,325.52 L310.37,325.42 L310.62,325.31 L310.87,325.21 L311.12,325.11 L311.37,325.02 L311.63,324.93 L311.88,324.84 L312.13,324.76 L312.38,324.67 L312.63,324.58 L312.88,324.50 L313.13,324.41 L313.38,324.31 L313.63,324.22 L313.88,324.13 L314.13,324.03 L314.38,323.94 L314.63,323.84 L314.88,323.75 L315.13,323.65 L315.38,323.56 L315.63,323.47 L315.88,323.37 L316.13,323.28 L316.38,323.19 L316.63,323.10 L316.88,323.01 L317.13,322.92 L317.38,322.83 L317.63,322.75 L317.88,322.66 L318.13,322.58 L318.38,322.50 L318.63,322.43 L318.88,322.36 L319.13,322.29 L319.38,322.22 L319.64,322.15 L319.89,322.09 L320.14,322.04 L320.39,321.98 L320.64,321.93 L320.89,321.89 L321.14,321.85 L321.39,321.81 L321.64,321.78 L321.89,321.75 L322.14,321.73 L322.39,321.72 L322.64,321.71 L322.89,321.70 L323.14,321.70 L323.39,321.71 L323.64,321.71 L323.89,321.73 L324.14,321.74 L324.39,321.77 L324.64,321.79 L324.89,321.82 L325.14,321.85 L325.39,321.88 L325.64,321.91 L325.89,321.95 L326.14,321.99 L326.39,322.03 L326.64,322.08 L326.89,322.12 L327.14,322.16 L327.39,322.21 L327.65,322.26 L327.90,322.30 L328.15,322.35 L328.40,322.40 L328.65,322.45 L328.90,322.49 L329.15,322.54 L329.40,322.58 L329.65,322.63 L329.90,322.67 L330.15,322.72 L330.40,322.78 L330.65,322.83 L330.90,322.89 L331.15,322.94 L331.40,323.00 L331.65,321.00 L331.90,319.05 L332.15,317.14 L332.40,315.28 L332.65,313.47 L332.90,311.71 L333.15,309.99 L333.40,308.32 L333.65,306.70 L333.90,305.12 L334.15,303.58 L334.40,302.09 L334.65,300.65 L334.90,299.25 L335.15,297.89 L335.40,296.58 L335.65,295.32 L335.90,294.09 L336.15,292.91 L336.40,291.77 L336.65,290.68 L336.90,289.62 L337.15,288.61 L337.40,287.64 L337.65,286.71 L337.91,285.83 L338.16,284.96 L338.41,284.04 L338.66,283.15 L338.91,282.35 L339.16,281.71 L339.41,281.30 L339.66,281.21 L339.91,281.49 L340.16,282.08 L340.41,282.93 L340.66,283.95 L340.91,285.07 L341.16,286.35 L341.41,288.19 L341.66,290.57 L341.91,293.41 L342.16,296.64 L342.41,300.20 L342.66,304.02 L342.91,308.02 L343.16,312.13 L343.41,316.29 L343.66,320.42 L343.91,324.46 L344.16,328.33 L344.41,332.03 L344.66,335.95 L344.91,340.15 L345.16,344.60 L345.41,349.28 L345.66,354.13 L345.91,359.14 L346.16,364.26 L346.41,369.46 L346.66,374.71 L346.91,379.98 L347.16,385.23 L347.41,390.42 L347.66,395.53 L347.91,400.52 L348.16,405.36 L348.41,410.01 L348.66,414.44 L348.91,418.61 L349.16,422.50 L349.41,426.07 L349.66,429.28 L349.91,432.10 L350.16,434.50 L350.41,436.44 L350.66,437.89 L350.92,438.82 L351.17,439.19 L351.42,439.08 L351.67,438.67 L351.92,437.97 L352.17,436.98 L352.42,435.74 L352.67,434.25 L352.92,432.52 L353.17,430.57 L353.42,428.42 L353.67,426.06 L353.92,423.53 L354.17,420.83 L354.42,417.97 L354.67,414.98 L354.92,411.85 L355.17,408.61 L355.42,405.28 L355.67,401.85 L355.92,398.35 L356.17,394.80 L356.42,391.19 L356.67,387.56 L356.92,383.90 L357.17,380.24 L357.42,376.59 L357.67,372.96 L357.92,369.36 L358.17,365.81 L358.42,362.33 L358.67,358.92 L358.92,355.60 L359.17,352.38 L359.42,349.27 L359.67,346.30 L359.92,343.47 L360.17,340.80 L360.42,338.29 L360.67,335.98 L360.92,333.85 L361.17,331.94 L361.42,330.25 L361.67,328.65 L361.92,327.05 L362.17,325.44 L362.42,323.82 L362.67,322.21 L362.92,320.59 L363.17,318.98 L363.42,317.38 L363.67,315.79 L363.93,314.20 L364.18,312.63 L364.43,311.08 L364.68,309.54 L364.93,308.02 L365.18,306.53 L365.43,305.06 L365.68,303.62 L365.93,302.21 L366.18,300.83 L366.43,299.48 L366.68,298.17 L366.93,296.90 L367.18,295.68 L367.43,294.49 L367.68,293.35 L367.93,292.26 L368.18,291.22 L368.43,290.24 L368.68,289.31 L368.93,288.43 L369.18,287.62 L369.43,286.87 L369.68,286.18 L369.93,285.57 L370.18,285.02 L370.43,284.54 L370.68,284.14 L370.93,283.81 L371.18,283.56 L371.43,283.39 L371.68,283.31 L371.93,283.31 L372.18,283.37 L372.43,283.48 L372.68,283.65 L372.93,283.88 L373.18,284.15 L373.43,284.47 L373.68,284.84 L373.93,285.26 L374.18,285.72 L374.43,286.23 L374.68,286.78 L374.93,287.36 L375.18,287.99 L375.43,288.65 L375.68,289.34 L375.93,290.07 L376.18,290.83 L376.43,291.61 L376.68,292.43 L376.94,293.27 L377.19,294.14 L377.44,295.03 L377.69,295.94 L377.94,296.87 L378.19,297.82 L378.44,298.79 L378.69,299.76 L378.94,300.76 L379.19,301.76 L379.44,302.77 L379.69,303.80 L379.94,304.82 L380.19,305.85 L380.44,306.89 L380.69,307.93 L380.94,308.96 L381.19,310.00 L381.44,311.03 L381.69,312.05 L381.94,313.07 L382.19,314.08 L382.44,315.08 L382.69,316.06 L382.94,317.04 L383.19,317.99 L383.44,318.93 L383.69,319.85 L383.94,320.76 L384.19,321.64 L384.44,322.49 L384.69,323.32 L384.94,324.13 L385.19,324.90 L385.44,325.64 L385.69,326.36 L385.94,327.03 L386.19,327.68 L386.44,328.28 L386.69,328.85 L386.94,329.38 L387.19,329.86 L387.44,330.31 L387.69,330.72 L387.94,331.13 L388.19,331.54 L388.44,331.96 L388.69,332.38 L388.94,332.80 L389.19,333.21 L389.44,333.63 L389.69,334.04 L389.95,334.45 L390.20,334.85 L390.45,335.25 L390.70,335.65 L390.95,336.04 L391.20,336.42 L391.45,336.80 L391.70,337.16 L391.95,337.52 L392.20,337.87 L392.45,338.21 L392.70,338.53 L392.95,338.84 L393.20,339.15 L393.45,339.43 L393.70,339.71 L393.95,339.96 L394.20,340.20 L394.45,340.43 L394.70,340.64 L394.95,340.83 L395.20,341.00 L395.45,341.15 L395.70,341.28 L395.95,341.39 L396.20,341.48 L396.45,341.54 L396.70,341.58 L396.95,341.60 L397.20,341.59 L397.45,341.57 L397.70,341.53 L397.95,341.48 L398.20,341.40 L398.45,341.32 L398.70,341.22 L398.95,341.10 L399.20,340.97 L399.45,340.83 L399.70,340.68 L399.95,340.51 L400.20,340.33 L400.45,340.15 L400.70,339.95 L400.95,339.74 L401.20,339.52 L401.45,339.30 L401.70,339.07 L401.95,338.83 L402.20,338.58 L402.45,338.33 L402.71,338.07 L402.96,337.81 L403.21,337.55 L403.46,337.28 L403.71,337.00 L403.96,336.73 L404.21,336.45 L404.46,336.17 L404.71,335.89 L404.96,335.61 L405.21,335.33 L405.46,335.05 L405.71,334.77 L405.96,334.50 L406.21,334.22 L406.46,333.95 L406.71,333.69 L406.96,333.43 L407.21,333.17 L407.46,332.92 L407.71,332.67 L407.96,332.43 L408.21,332.20 L408.46,331.97 L408.71,331.76 L408.96,331.55 L409.21,331.35 L409.46,331.16 L409.71,330.99 L409.96,330.82 L410.21,330.67 L410.46,330.52 L410.71,330.39 L410.96,330.27 L411.21,330.15 L411.46,330.02 L411.71,329.89 L411.96,329.77 L412.21,329.64 L412.46,329.51 L412.71,329.38 L412.96,329.26 L413.21,329.13 L413.46,329.01 L413.71,328.88 L413.96,328.76 L414.21,328.64 L414.46,328.52 L414.71,328.40 L414.96,328.29 L415.21,328.18 L415.46,328.07 L415.72,327.96 L415.97,327.86 L416.22,327.76 L416.47,327.66 L416.72,327.57 L416.97,327.48 L417.22,327.40 L417.47,327.32 L417.72,327.24 L417.97,327.18 L418.22,327.11 L418.47,327.05 L418.72,327.00 L418.97,326.95 L419.22,326.91 L419.47,326.87 L419.72,326.85 L419.97,326.82 L420.22,326.81 L420.47,326.80 L420.72,326.80 L420.97,326.81 L421.22,326.83 L421.47,326.85 L421.72,326.89 L421.97,326.93 L422.22,326.98 L422.47,327.03 L422.72,327.10 L422.97,327.16 L423.22,327.24 L423.47,327.32 L423.72,327.40 L423.97,327.49 L424.22,327.59 L424.47,327.68 L424.72,327.78 L424.97,327.89 L425.22,328.00 L425.47,328.11 L425.72,328.22 L425.97,328.33 L426.22,328.45 L426.47,328.56 L426.72,328.68 L426.97,328.79 L427.22,328.91 L427.47,329.03 L427.72,329.14 L427.97,329.26 L428.22,329.37 L428.47,329.48 L428.73,329.59 L428.98,329.69 L429.23,329.79 L429.48,329.89 L429.73,329.99 L429.98,330.08 L430.23,330.17 L430.48,330.25 L430.73,330.32 L430.98,330.39 L431.23,330.46 L431.48,330.53 L431.73,330.60 L431.98,330.67 L432.23,330.74 L432.48,330.81 L432.73,330.89 L432.98,330.96 L433.23,331.03 L433.48,331.11 L433.73,331.18 L433.98,331.25 L434.23,331.33 L434.48,331.40 L434.73,331.47 L434.98,331.54 L435.23,331.62 L435.48,331.69 L435.73,331.76 L435.98,331.83 L436.23,331.90 L436.48,331.97 L436.73,332.03 L436.98,332.10 L437.23,332.16 L437.48,332.22 L437.73,332.28 L437.98,332.34 L438.23,332.40 L438.48,332.46 L438.73,332.51 L438.98,332.56 L439.23,332.61 L439.48,332.66 L439.73,332.70 L439.98,332.74 L440.23,332.78 L440.48,332.82 L440.73,332.85 L440.98,332.88 L441.23,332.91 L441.48,332.93 L441.74,332.95 L441.99,332.97 L442.24,332.98 L442.49,332.99 L442.74,333.00 L442.99,333.00 L443.24,333.00 L443.49,333.00 L443.74,333.00 L443.99,333.00 L444.24,332.99 L444.49,332.99 L444.74,332.99 L444.99,332.98 L445.24,332.98 L445.49,332.97 L445.74,332.97 L445.99,332.96 L446.24,332.95 L446.49,332.94 L446.74,332.93 L446.99,332.92 L447.24,332.91 L447.49,332.90 L447.74,332.89 L447.99,332.87 L448.24,332.86 L448.49,332.84 L448.74,332.83 L448.99,332.81 L449.24,332.79 L449.49,332.77 L449.74,332.75 L449.99,332.73 L450.24,332.70 L450.49,332.68 L450.74,332.66 L450.99,332.63 L451.24,332.60 L451.49,332.57 L451.74,332.54 L451.99,332.51 L452.24,332.48 L452.49,332.45 L452.74,332.41 L452.99,332.38 L453.24,332.34 L453.49,332.30 L453.74,332.26 L453.99,332.22 L454.24,332.18 L454.49,332.13 L454.75,332.09 L455.00,332.04 L455.25,331.99 L455.50,331.94 L455.75,331.89 L456.00,331.83 L456.25,331.78 L456.50,331.72 L456.75,331.66 L457.00,331.60 L457.25,331.54 L457.50,331.48 L457.75,331.41 L458.00,331.35 L458.25,331.28 L458.50,331.21 L458.75,331.13 L459.00,331.06 L459.25,330.98 L459.50,330.91 L459.75,330.83 L460.00,330.75 L460.25,330.66 L460.50,330.58 L460.75,330.49 L461.00,330.40 L765.50,330.40" fill="none" stroke="#f0f" stroke-width="3" stroke-dasharray="9.9 2.3 5.3 2.3" stroke-dashoffset="10.44"/>
<rect x="540.8" y="278.4" width="199.80" height="41.80" fill="#fff" stroke="#4d4d4d" stroke-width="1.1"/>
<line x1="560" y1="289.9" x2="597" y2="289.9" stroke="#000" stroke-width="3"/>
<line x1="560" y1="308.7" x2="597" y2="308.7" stroke="#f0f" stroke-width="3" stroke-dasharray="9.9 2.3 5.3 2.3"/>
<text class="lg" x="601.6" y="296">Proposed AJPC</text>
<text class="lg" x="605.4" y="315">OPC without Jerk</text>
<text class="tk" x="107.4" y="277.00" text-anchor="end"><tspan class="m">−</tspan>1000</text>
<text class="tk" x="107.4" y="335.03" text-anchor="end"><tspan class="m">−</tspan>2000</text>
<text class="tk" x="107.4" y="393.07" text-anchor="end"><tspan class="m">−</tspan>3000</text>
<text class="tk" x="107.4" y="451.10" text-anchor="end"><tspan class="m">−</tspan>4000</text>
<text class="tk" x="114.30" y="467.8" text-anchor="middle">0</text>
<text class="tk" x="331.37" y="467.8" text-anchor="middle">0.5</text>
<text class="tk" x="548.43" y="467.8" text-anchor="middle">1</text>
<text class="tk" x="765.50" y="467.8" text-anchor="middle">1.5</text>
<text class="lb" x="440.8" y="489.9" text-anchor="middle">Time (sec)</text>
<text class="lb" transform="translate(54,359.45) rotate(-90)" text-anchor="middle">Rolling jerk (m/s<tspan class="sup" dx="-2.4" dy="-9.5">3</tspan><tspan dx="0.9" dy="9.5">)</tspan></text>
<text class="pn" transform="translate(12.5,373.8) scale(1,1.07)">(b)</text>
</svg>
</body></html>
